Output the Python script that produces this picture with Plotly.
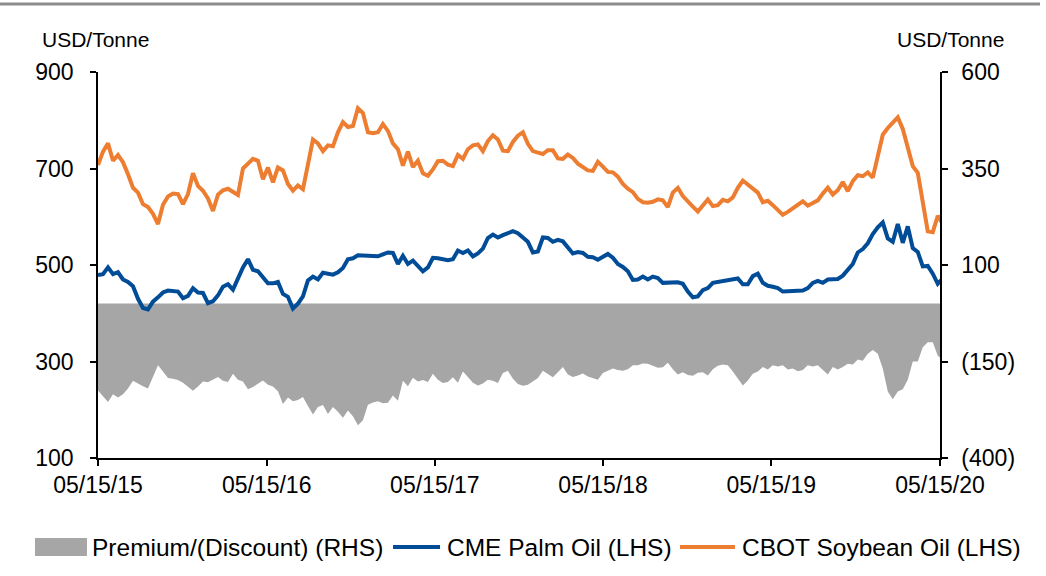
import pandas as pd
import plotly.graph_objects as go

# ---- data (~11-day spacing) ----
start_date = "2015-05-15"
end_date = "2020-05-21"

soybean = [707, 735, 752, 716, 728, 713, 688, 660, 650, 626, 620, 606, 585, 625, 642, 648, 647, 626, 647, 690,
           664, 654, 638, 612, 646, 655, 658, 652, 645, 700, 710, 720, 716, 678, 702, 671, 702, 696, 668, 654,
           665, 657, 708, 760, 752, 736, 748, 746, 775, 796, 786, 788, 825, 815, 775, 773, 775, 792, 778, 752,
           740, 706, 735, 703, 716, 690, 685, 698, 715, 716, 708, 705, 728, 720, 740, 748, 750, 736, 757, 769,
           760, 737, 736, 755, 768, 775, 751, 736, 733, 730, 738, 738, 721, 720, 729, 722, 710, 703, 696, 695,
           714, 704, 693, 692, 683, 668, 658, 651, 637, 630, 629, 631, 636, 634, 620, 650, 660, 643, 631, 621,
           611, 625, 636, 622, 624, 635, 632, 640, 660, 675, 667, 660, 650, 630, 633, 624, 613, 604, 610, 617,
           625, 632, 623, 629, 634, 648, 660, 646, 655, 672, 653, 674, 686, 684, 692, 681, 725, 770, 784, 795,
           806, 782, 745, 705, 691, 630, 570, 568, 602, 585]

palm = [479, 481, 495, 481, 485, 470, 465, 456, 430, 411, 408, 424, 433, 443, 447, 446, 445, 431, 436, 452,
        443, 442, 421, 425, 437, 455, 460, 449, 474, 495, 512, 490, 487, 473, 462, 462, 465, 440, 434, 410,
        420, 435, 468, 476, 470, 484, 481, 480, 485, 494, 512, 514, 520, 520, 519, 519, 518, 522, 526, 525,
        502, 519, 502, 509, 497, 487, 495, 515, 514, 511, 510, 512, 530, 525, 530, 518, 524, 534, 556, 563,
        557, 562, 566, 570, 566, 556, 548, 526, 528, 557, 556, 548, 552, 549, 535, 524, 527, 525, 517, 516,
        511, 517, 523, 515, 502, 496, 487, 469, 470, 476, 470, 476, 473, 463, 463, 463, 464, 461, 445, 433,
        435, 448, 452, 463, 465, 467, 467, 470, 472, 460, 460, 477, 482, 463, 457, 455, 452, 445, 445, 446,
        445, 447, 452, 463, 467, 463, 470, 470, 471, 478, 490, 502, 526, 533, 545, 564, 578, 588, 555, 548,
        585, 546, 580, 535, 527, 497, 498, 482, 461, 472]

premium = [-225, -240, -255, -235, -243, -235, -220, -200, -208, -214, -220, -190, -160, -176, -193, -195, -198, -205, -216, -226,
           -215, -202, -204, -196, -190, -200, -203, -182, -197, -202, -222, -216, -208, -199, -210, -215, -227, -260, -243, -253,
           -250, -242, -265, -287, -268, -263, -286, -268, -280, -296, -277, -292, -315, -302, -262, -256, -253, -258, -257, -238,
           -252, -200, -214, -192, -202, -198, -203, -182, -197, -206, -203, -191, -205, -176, -190, -205, -212, -207, -197, -200,
           -206, -180, -174, -195, -208, -213, -210, -202, -193, -174, -183, -191, -178, -164, -184, -190, -186, -181, -189, -194,
           -197, -180, -174, -168, -172, -174, -170, -160, -160, -155, -156, -161, -166, -165, -153, -170, -184, -178, -185, -187,
           -179, -178, -186, -170, -161, -158, -160, -176, -193, -212, -199, -182, -176, -164, -171, -160, -163, -160, -171, -168,
           -175, -172, -160, -163, -160, -171, -184, -164, -171, -164, -156, -158, -145, -148, -130, -120, -130, -168, -228, -248,
           -228, -222, -197, -150, -150, -113, -100, -100, -135, -146]

dates = pd.date_range(start_date, end_date, periods=len(palm))

x_ticks = ["2015-05-15", "2016-05-15", "2017-05-15", "2018-05-15", "2019-05-15", "2020-05-15"]
lhs_ticks = [100, 300, 500, 700, 900]
rhs_ticks = [-400, -150, 100, 350, 600]
rhs_labels = ["(400)", "(150)", "100", "350", "600"]

names = ["Premium/(Discount) (RHS)", "CME Palm Oil (LHS)", "CBOT Soybean Oil (LHS)"]
GRAY, BLUE, ORANGE = "#A6A6A6", "#004C97", "#ED7D31"

FONT = "Liberation Sans, Arial, sans-serif"

fig = go.Figure()
fig.add_trace(go.Scatter(x=dates, y=premium, name=names[0], mode="lines",
                         line=dict(width=0, color=GRAY), fill="tozeroy", fillcolor=GRAY,
                         yaxis="y", showlegend=False))
fig.add_trace(go.Scatter(x=dates, y=palm, name=names[1], mode="lines",
                         line=dict(width=4, color=BLUE), yaxis="y2", showlegend=False))
fig.add_trace(go.Scatter(x=dates, y=soybean, name=names[2], mode="lines",
                         line=dict(width=4, color=ORANGE), yaxis="y2", showlegend=False))

axis_common = dict(showgrid=False, zeroline=False, showline=True, linecolor="black", linewidth=1.5,
                   ticks="outside", ticklen=6, tickcolor="black", tickwidth=1.5, automargin=False,
                   tickfont=dict(family=FONT, size=23, color="black"))

fig.update_layout(
    width=1046, height=576,
    margin=dict(l=98, r=106, t=72, b=118, autoexpand=False),
    paper_bgcolor="white", plot_bgcolor="white",
    font=dict(family=FONT, color="black"),
    xaxis=dict(type="date", range=["2015-05-15", "2020-05-15"], tickvals=x_ticks, tickformat="%m/%d/%y",
               **axis_common),
    yaxis=dict(side="right", range=[-400, 600], tickvals=rhs_ticks, ticktext=rhs_labels,
               ticklabelstandoff=9, **axis_common),
    yaxis2=dict(side="left", overlaying="y", range=[100, 900], tickvals=lhs_ticks,
                ticklabelstandoff=12, **axis_common),
    showlegend=False,
)

# axis unit labels
fig.add_annotation(text="USD/Tonne", xref="paper", yref="paper", x=-0.069, y=1.083,
                   xanchor="left", yanchor="middle", showarrow=False, font=dict(family=FONT, size=21))
fig.add_annotation(text="USD/Tonne", xref="paper", yref="paper", x=1.078, y=1.083,
                   xanchor="right", yanchor="middle", showarrow=False, font=dict(family=FONT, size=21))
# top rule
fig.add_shape(type="line", xref="paper", yref="paper", x0=-0.1164, x1=1.1188, y0=1.176, y1=1.176,
              line=dict(color="#8C8C8C", width=3))

# legend (drawn manually to keep it on one row like the reference)
ly = -0.2306
fig.add_shape(type="rect", xref="paper", yref="paper", x0=-0.0748, x1=-0.0131, y0=-0.2073, y1=-0.2539,
              line=dict(width=0), fillcolor=GRAY)
fig.add_shape(type="line", xref="paper", yref="paper", x0=0.3504, x1=0.4062, y0=ly, y1=ly,
              line=dict(color=BLUE, width=4))
fig.add_shape(type="line", xref="paper", yref="paper", x0=0.6912, x1=0.7565, y0=ly, y1=ly,
              line=dict(color=ORANGE, width=4))
for txt, lx in zip(names, [-0.0095, 0.4121, 0.7625]):
    fig.add_annotation(text=txt, xref="paper", yref="paper", x=lx, y=ly, xanchor="left", yanchor="middle",
                       showarrow=False, font=dict(family=FONT, size=24.5, color="black"))

fig.write_html("out.html", config={"displayModeBar": False},
               post_script="document.body.style.margin='0';document.body.style.overflow='hidden';")
